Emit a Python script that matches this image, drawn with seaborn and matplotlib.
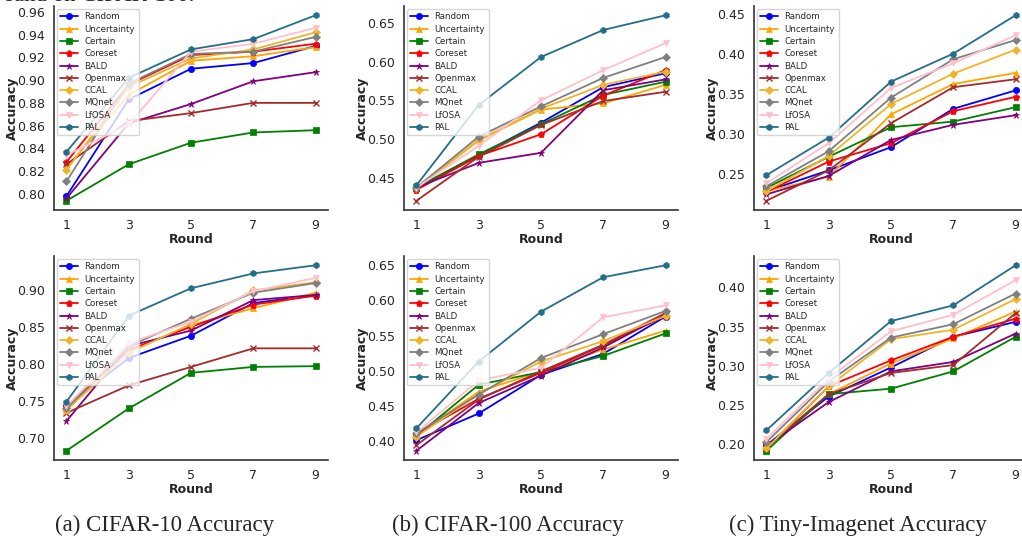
import matplotlib
matplotlib.use("Agg")
import matplotlib.pyplot as plt
from matplotlib.ticker import MultipleLocator
import seaborn as sns

rounds = [1, 3, 5, 7, 9]
methods = ["Random", "Uncertainty", "Certain", "Coreset", "BALD",
           "Openmax", "CCAL", "MQnet", "LfOSA", "PAL"]
colors = ["blue", "orange", "green", "red", "purple",
          "brown", "#f0b429", "gray", "pink", "#236e8a"]
markers = ["o", "^", "s", "p", "*", "x", "D", "D", "v", "h"]

# top row
cifar10_top = {
    "Random": [0.798, 0.883, 0.910, 0.915, 0.930],
    "Uncertainty": [0.823, 0.887, 0.917, 0.921, 0.929],
    "Certain": [0.794, 0.826, 0.845, 0.854, 0.856],
    "Coreset": [0.828, 0.896, 0.922, 0.925, 0.932],
    "BALD": [0.796, 0.862, 0.879, 0.899, 0.907],
    "Openmax": [0.826, 0.864, 0.871, 0.880, 0.880],
    "CCAL": [0.821, 0.894, 0.919, 0.927, 0.942],
    "MQnet": [0.811, 0.897, 0.923, 0.925, 0.938],
    "LfOSA": [0.834, 0.861, 0.925, 0.932, 0.946],
    "PAL": [0.837, 0.902, 0.927, 0.936, 0.957],
}
cifar100_top = {
    "Random": [0.437, 0.479, 0.521, 0.567, 0.585],
    "Uncertainty": [0.436, 0.498, 0.538, 0.546, 0.570],
    "Certain": [0.437, 0.480, 0.519, 0.557, 0.574],
    "Coreset": [0.434, 0.478, 0.506, 0.556, 0.589],
    "BALD": [0.437, 0.469, 0.482, 0.563, 0.577],
    "Openmax": [0.420, 0.477, 0.518, 0.549, 0.561],
    "CCAL": [0.436, 0.499, 0.539, 0.570, 0.587],
    "MQnet": [0.437, 0.503, 0.542, 0.579, 0.606],
    "LfOSA": [0.437, 0.491, 0.550, 0.589, 0.624],
    "PAL": [0.440, 0.544, 0.606, 0.641, 0.660],
}
tiny_top = {
    "Random": [0.228, 0.254, 0.283, 0.331, 0.354],
    "Uncertainty": [0.228, 0.246, 0.324, 0.362, 0.376],
    "Certain": [0.232, 0.271, 0.308, 0.315, 0.333],
    "Coreset": [0.227, 0.265, 0.288, 0.328, 0.346],
    "BALD": [0.224, 0.247, 0.292, 0.311, 0.323],
    "Openmax": [0.216, 0.254, 0.313, 0.358, 0.368],
    "CCAL": [0.228, 0.272, 0.337, 0.375, 0.405],
    "MQnet": [0.234, 0.278, 0.345, 0.393, 0.417],
    "LfOSA": [0.238, 0.288, 0.357, 0.388, 0.423],
    "PAL": [0.248, 0.295, 0.365, 0.400, 0.448],
}

# bottom row
cifar10_bot = {
    "Random": [0.743, 0.808, 0.838, 0.882, 0.893],
    "Uncertainty": [0.738, 0.817, 0.852, 0.875, 0.896],
    "Certain": [0.683, 0.740, 0.788, 0.796, 0.797],
    "Coreset": [0.742, 0.819, 0.850, 0.880, 0.892],
    "BALD": [0.723, 0.824, 0.845, 0.886, 0.893],
    "Openmax": [0.734, 0.771, 0.796, 0.821, 0.821],
    "CCAL": [0.738, 0.815, 0.854, 0.899, 0.910],
    "MQnet": [0.740, 0.824, 0.861, 0.896, 0.909],
    "LfOSA": [0.743, 0.828, 0.857, 0.898, 0.916],
    "PAL": [0.749, 0.865, 0.902, 0.922, 0.933],
}
cifar100_bot = {
    "Random": [0.401, 0.439, 0.494, 0.524, 0.577],
    "Uncertainty": [0.409, 0.470, 0.499, 0.530, 0.557],
    "Certain": [0.407, 0.480, 0.498, 0.521, 0.553],
    "Coreset": [0.410, 0.460, 0.497, 0.536, 0.578],
    "BALD": [0.386, 0.454, 0.493, 0.533, 0.580],
    "Openmax": [0.394, 0.459, 0.499, 0.537, 0.582],
    "CCAL": [0.406, 0.467, 0.513, 0.542, 0.578],
    "MQnet": [0.411, 0.466, 0.518, 0.552, 0.585],
    "LfOSA": [0.412, 0.486, 0.504, 0.576, 0.593],
    "PAL": [0.418, 0.513, 0.584, 0.633, 0.650],
}
tiny_bot = {
    "Random": [0.199, 0.261, 0.298, 0.337, 0.356],
    "Uncertainty": [0.196, 0.264, 0.303, 0.335, 0.369],
    "Certain": [0.192, 0.264, 0.271, 0.293, 0.337],
    "Coreset": [0.195, 0.274, 0.307, 0.337, 0.360],
    "BALD": [0.198, 0.254, 0.293, 0.305, 0.341],
    "Openmax": [0.197, 0.264, 0.291, 0.301, 0.367],
    "CCAL": [0.195, 0.274, 0.334, 0.346, 0.385],
    "MQnet": [0.203, 0.280, 0.336, 0.353, 0.392],
    "LfOSA": [0.207, 0.284, 0.344, 0.365, 0.409],
    "PAL": [0.218, 0.291, 0.357, 0.377, 0.428],
}

captions = ["(a) CIFAR-10 Accuracy", "(b) CIFAR-100 Accuracy",
            "(c) Tiny-Imagenet Accuracy"]
caption_x = [165, 508, 858]

sns.set_style("white")
plt.rcParams["font.family"] = ["DejaVu Sans"]

W, H = 1022, 540
fig = plt.figure(figsize=(W / 100, H / 100), dpi=100)

panels = [
    (cifar10_top, 54, 6, 0.02), (cifar100_top, 404, 6, 0.05), (tiny_top, 754, 6, 0.05),
    (cifar10_bot, 54, 256, 0.05), (cifar100_bot, 404, 256, 0.05), (tiny_bot, 754, 256, 0.05),
]
aw, ah = 274, 204

for data, left, top, step in panels:
    ax = fig.add_axes([left / W, 1 - (top + ah) / H, aw / W, ah / H])
    for name, c, m in zip(methods, colors, markers):
        sns.lineplot(x=rounds, y=data[name], color=c, marker=m, markersize=4.5,
                     markeredgewidth=1 if m == "x" else 0.5, markeredgecolor=c,
                     linewidth=1.3, label=name, ax=ax)
    ax.set_xticks(rounds)
    ax.yaxis.set_major_locator(MultipleLocator(step))
    ax.yaxis.set_major_formatter(plt.FormatStrFormatter("%.2f"))
    ax.tick_params(labelsize=9, pad=3)
    ax.set_xlabel("Round", fontsize=9, fontweight="bold", labelpad=1)
    ax.set_ylabel("Accuracy", fontsize=9, fontweight="bold", labelpad=-1.5)
    sns.despine(ax=ax)
    for s in ax.spines.values():
        s.set_linewidth(1.2)
        s.set_color("#333333")
    ax.legend(loc="upper left", fontsize=6.2, labelspacing=0.38,
              borderaxespad=0.35, handlelength=2.0, borderpad=0.4)

for cap, cx in zip(captions, caption_x):
    fig.text(cx / W, 1 - 525 / H, cap, ha="center", va="center",
             fontsize=16.5, family="Liberation Serif")

# caption of the figure above, cut off by the crop
fig.text(5 / W, 1 - 1 / H, "sand on CIFAR-100.", ha="left", va="baseline",
         fontsize=16.5, family="Liberation Serif")

fig.savefig("out.png", dpi=100)
